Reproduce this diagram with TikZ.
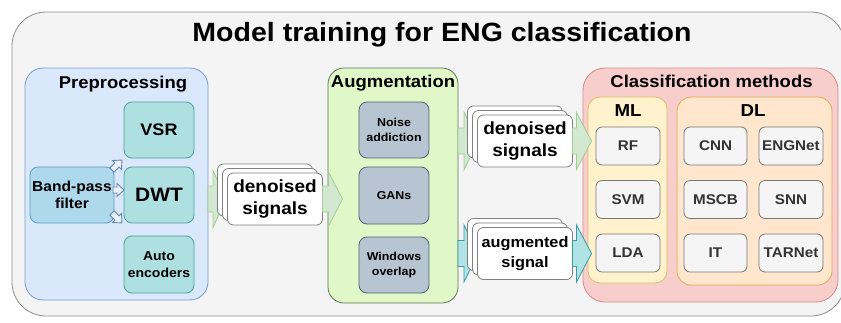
\documentclass[tikz,border=0pt]{standalone}
\usepackage{fontspec}
\setmainfont{Liberation Sans}[FakeStretch=1.08]
\usetikzlibrary{shadows,calc}
\definecolor{outerfill}{HTML}{F4F4F4}
\definecolor{outerdraw}{HTML}{8C8C8C}
\definecolor{prefill}{HTML}{DAE8FC}
\definecolor{predraw}{HTML}{7A9CCB}
\definecolor{tealfill}{HTML}{AEE0E1}
\definecolor{tealdraw}{HTML}{4E9EA3}
\definecolor{bpfill}{HTML}{AED8EC}
\definecolor{bpdraw}{HTML}{5A9DBE}
\definecolor{augfill}{HTML}{E0F8C8}
\definecolor{augdraw}{HTML}{5E7358}
\definecolor{slatefill}{HTML}{B6C5D1}
\definecolor{slatedraw}{HTML}{4D6475}
\definecolor{garfill}{HTML}{D3E8D1}
\definecolor{gardraw}{HTML}{A3CB93}
\definecolor{carfill}{HTML}{B0E3E6}
\definecolor{cardraw}{HTML}{3D9AA0}
\definecolor{clsfill}{HTML}{F8CECC}
\definecolor{clsdraw}{HTML}{D48A88}
\definecolor{mlfill}{HTML}{FFF2CC}
\definecolor{mldraw}{HTML}{DDBE6A}
\definecolor{dlfill}{HTML}{FFE6CC}
\definecolor{dldraw}{HTML}{E0A850}
\definecolor{itemfill}{HTML}{F5F5F5}
\definecolor{itemdraw}{HTML}{777777}
\definecolor{itemtext}{HTML}{333333}
\definecolor{stkdraw}{HTML}{808080}
\pgfdeclarelayer{bg}\pgfdeclarelayer{mid}\pgfdeclarelayer{fg}
\pgfsetlayers{bg,mid,main,fg}
\newcommand\myfs[2]{\fontsize{#1}{#2}\selectfont}
% #1 style, #2 start, #3 shaft length, #4 head length, #5 half shaft, #6 half head
\newcommand\blockarrow[6]{\path[#1] (#2) ++(0,-#5) -- ++(#3,0) -- ++(0,{#5-#6}) -- ++(#4,#6) -- ++(-#4,#6) -- ++(0,{#5-#6}) -- ++(-#3,0) -- cycle;}
\begin{document}
\begin{tikzpicture}[x=1pt,y=-1pt,
  every node/.style={inner sep=0pt, outer sep=0pt, align=center, font=\bfseries},
  grpbox/.style={draw, line width=0.8pt},
  gtitle/.style={font=\bfseries\myfs{17.1}{20}},
  tealbox/.style={draw=tealdraw, fill=tealfill, line width=0.8pt, rounded corners=8pt, minimum width=70pt, minimum height=56pt},
  slatebox/.style={draw=slatedraw, fill=slatefill, line width=0.8pt, rounded corners=8pt, minimum width=70pt, minimum height=56pt, font=\bfseries\myfs{11.5}{15}},
  item/.style={draw=itemdraw, fill=itemfill, text=itemtext, line width=0.8pt, rounded corners=6pt, minimum width=64pt, minimum height=38pt, font=\bfseries\myfs{14.1}{17}},
  stk/.style={draw=stkdraw, fill=white, line width=0.8pt, rounded corners=6pt, minimum width=95pt, minimum height=52pt,
    copy shadow={shadow xshift=-10pt, shadow yshift=9pt, draw=stkdraw, fill=white},
    copy shadow={shadow xshift=-5pt, shadow yshift=4.5pt, draw=stkdraw, fill=white}},
  garrow/.style={fill=garfill, draw=gardraw, line width=0.8pt, line join=miter},
  carrow/.style={fill=carfill, draw=cardraw, line width=0.8pt},
  sarrow/.style={fill=prefill!60!white, draw=predraw!85!black, line width=0.9pt}
]
\useasboundingbox (0,0) rectangle (841,322);
\begin{pgfonlayer}{bg}
\node[draw=outerdraw, fill=outerfill, line width=0.8pt, rounded corners=34pt, minimum width=833pt, minimum height=304pt] (outer) at (428.5,164) {};
\node[grpbox, draw=predraw, fill=prefill, rounded corners=18pt, minimum width=183pt, minimum height=232pt] (pre) at (116.5,184) {};
\node[grpbox, draw=augdraw, fill=augfill, rounded corners=16pt, minimum width=130pt, minimum height=235pt] (aug) at (393,185.5) {};
\node[grpbox, draw=clsdraw, fill=clsfill, rounded corners=22pt, minimum width=255pt, minimum height=234pt] (cls) at (710.5,185) {};
\node[grpbox, draw=mldraw, fill=mlfill, rounded corners=12pt, minimum width=79pt, minimum height=186pt] (ml) at (627.5,190) {};
\node[grpbox, draw=dldraw, fill=dlfill, rounded corners=14pt, minimum width=155pt, minimum height=188pt] (dl) at (754.5,191) {};
\end{pgfonlayer}
% titles
\node[font=\bfseries\myfs{26.4}{30}] (title) at (442,35) {Model training for ENG classification};
\node[gtitle] (pret) at (123,84.4) {Preprocessing};
\node[gtitle] (augt) at (393,83.5) {Augmentation};
\node[gtitle] (clst) at (711.5,81.5) {Classification methods};
\node[font=\bfseries\myfs{17.3}{20}] (mlt) at (628,111) {ML};
\node[font=\bfseries\myfs{17.3}{20}] (dlt) at (753,111) {DL};
% preprocessing
\node[tealbox, font=\bfseries\myfs{16.7}{20}] (vsr) at (159,130) {VSR};
\node[tealbox, font=\bfseries\myfs{19.4}{22}] (dwt) at (159,195) {DWT};
\node[tealbox, minimum height=57pt, font=\bfseries\myfs{13}{17.5}] (ae) at (159,264.5) {Auto\\encoders};
\node[draw=bpdraw, fill=bpfill, line width=0.8pt, rounded corners=8pt, minimum width=84pt, minimum height=56pt, font=\bfseries\myfs{14.4}{17.5}] (bp) at (72,195) {Band-pass\\filter};
% augmentation
\node[slatebox] (noise) at (394,130) {Noise\\addiction};
\node[slatebox, minimum height=57pt] (gans) at (394,195.5) {GANs};
\node[slatebox] (win) at (394,265) {Windows\\overlap};
% classification
\node[item] (rf) at (628,146) {RF};
\node[item] (svm) at (628,199.5) {SVM};
\node[item] (lda) at (628,253) {LDA};
\node[item, minimum width=63pt] (cnn) at (715.5,146) {CNN};
\node[item, minimum width=63pt] (mscb) at (715.5,199.5) {MSCB};
\node[item, minimum width=63pt] (it) at (715.5,253) {IT};
\node[item] (eng) at (791,146) {ENGNet};
\node[item] (snn) at (791,199.5) {SNN};
\node[item] (tar) at (791,253) {TARNet};
% stacked signals
\node[stk, font=\bfseries\myfs{17.6}{21.5}] (st1) at (275,199) {denoised\\signals};
\node[stk, font=\bfseries\myfs{17.6}{21.5}] (st2) at (525,141) {denoised\\signals};
\node[stk, font=\bfseries\myfs{15.1}{20}] (st3) at (525,253.5) {augmented\\signal};
% small arrows from band-pass filter
\coordinate (sa1) at ($(bp.east)+(-2,-25)$);
\coordinate (sa2) at ($(bp.east)+(-1,-5)$);
\coordinate (sa3) at ($(bp.east)+(-2,18)$);
\begin{scope}[shift={(sa1)}, rotate=45]
\blockarrow{sarrow}{0,0}{7}{7}{3}{6.5}
\end{scope}
\begin{scope}[shift={(sa2)}]
\blockarrow{sarrow}{0,0}{4}{7}{3}{6.5}
\end{scope}
\begin{scope}[shift={(sa3)}, rotate=-45]
\blockarrow{sarrow}{0,0}{7}{7}{3}{6.5}
\end{scope}
% block arrows under the stacks
\begin{pgfonlayer}{mid}
\blockarrow{garrow}{pre.east |- st1.west}{5}{13}{13}{28.5}
\blockarrow{garrow}{aug.east |- st2.west}{6}{14}{13}{29}
\blockarrow{carrow}{aug.east |- st3.west}{6}{14}{13}{28.5}
\end{pgfonlayer}
% block arrows over the next group
\begin{pgfonlayer}{fg}
\blockarrow{garrow}{st1.east}{6}{14}{13}{27}
\blockarrow{garrow}{st2.east}{4}{15}{13}{28.5}
\blockarrow{carrow}{st3.east}{4}{15}{13}{28.5}
\end{pgfonlayer}
\end{tikzpicture}
\end{document}
